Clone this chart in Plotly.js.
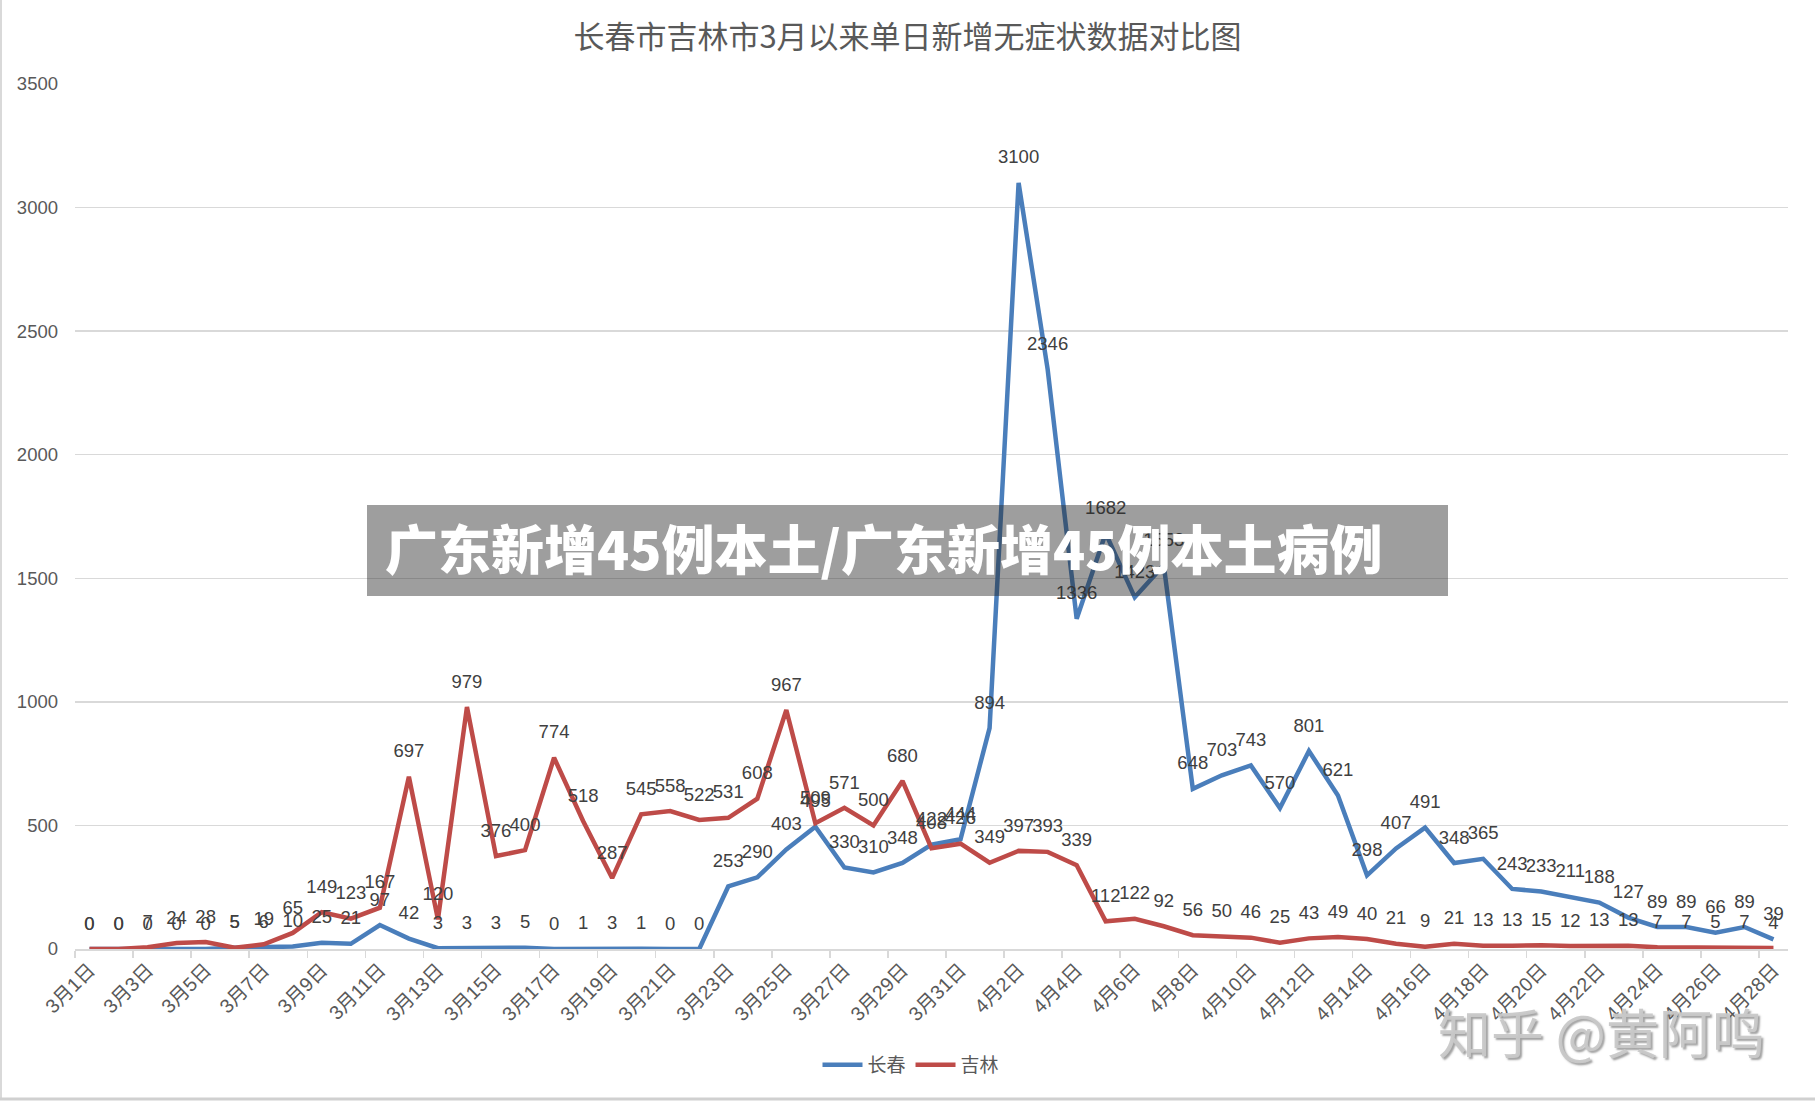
<!DOCTYPE html>
<html>
<head>
<meta charset="utf-8">
<script src="https://cdn.plot.ly/plotly-3.0.1.min.js"></script>
<style>
  html, body { margin: 0; padding: 0; background: #ffffff; }
  #chart { width: 1815px; height: 1102px; }
</style>
</head>
<body>
<div id="chart"></div>
<script>
const dates = [
  "3月1日","3月2日","3月3日","3月4日","3月5日","3月6日","3月7日","3月8日","3月9日","3月10日",
  "3月11日","3月12日","3月13日","3月14日","3月15日","3月16日","3月17日","3月18日","3月19日","3月20日",
  "3月21日","3月22日","3月23日","3月24日","3月25日","3月26日","3月27日","3月28日","3月29日","3月30日",
  "3月31日","4月1日","4月2日","4月3日","4月4日","4月5日","4月6日","4月7日","4月8日","4月9日",
  "4月10日","4月11日","4月12日","4月13日","4月14日","4月15日","4月16日","4月17日","4月18日","4月19日",
  "4月20日","4月21日","4月22日","4月23日","4月24日","4月25日","4月26日","4月27日","4月28日"
];

const changchun = [
  0, 0, 0, 0, 0, 5, 6, 10, 25, 21,
  97, 42, 3, 3, 3, 5, 0, 1, 3, 1,
  0, 0, 253, 290, 403, 495, 330, 310, 348, 422,
  444, 894, 3100, 2346, 1336, 1682, 1423, 1553, 648, 703,
  743, 570, 801, 621, 298, 407, 491, 348, 365, 243,
  233, 211, 188, 127, 89, 89, 66, 89, 39
];

const jilin = [
  0, 0, 7, 24, 28, 5, 19, 65, 149, 123,
  167, 697, 120, 979, 376, 400, 774, 518, 287, 545,
  558, 522, 531, 608, 967, 509, 571, 500, 680, 408,
  426, 349, 397, 393, 339, 112, 122, 92, 56, 50,
  46, 25, 43, 49, 40, 21, 9, 21, 13, 13,
  15, 12, 13, 13, 7, 7, 5, 7, 4
];

const seriesNames = ["长春", "吉林"];
const titleText = "长春市吉林市3月以来单日新增无症状数据对比图";
const bannerText = "广东新增45例本土/广东新增45例本土病例";
const watermarkText = "知乎 @黄阿鸣";

const blue = "#4A7EBB";
const red = "#BE4B48";
const labelFont = { family: "Liberation Sans, Noto Sans CJK SC, sans-serif", size: 18.5, color: "#404040" };

const traces = [
  { x: dates, y: changchun, name: seriesNames[0], type: "scatter", mode: "lines",
    line: { color: blue, width: 4.5 }, hoverinfo: "x+y" },
  { x: dates, y: jilin, name: seriesNames[1], type: "scatter", mode: "lines",
    line: { color: red, width: 4.5 }, hoverinfo: "x+y" },
  { x: dates, y: changchun, type: "scatter", mode: "markers+text", showlegend: false,
    text: changchun.map(String), textposition: "top center", textfont: labelFont,
    marker: { size: 22, color: "rgba(0,0,0,0)" }, hoverinfo: "skip" },
  { x: dates, y: jilin, type: "scatter", mode: "markers+text", showlegend: false,
    text: jilin.map(String), textposition: "top center", textfont: labelFont,
    marker: { size: 22, color: "rgba(0,0,0,0)" }, hoverinfo: "skip" }
];

// pixel -> paper helpers (plot area: x 75..1788, y 84..949)
const L = 75, R = 1788, T = 84, B = 949;
const px = v => (v - L) / (R - L);
const py = v => (B - v) / (B - T);

const layout = {
  width: 1815, height: 1102,
  paper_bgcolor: "#ffffff", plot_bgcolor: "#ffffff",
  margin: { l: L, r: 1815 - R, t: T, b: 1102 - B, pad: 0 },
  title: {
    text: titleText,
    x: 0.5, xref: "container", xanchor: "center",
    y: 1 - 37 / 1102, yref: "container", yanchor: "middle",
    font: { family: "Noto Sans CJK SC, sans-serif", size: 31, color: "#595959" }
  },
  showlegend: true,
  legend: {
    orientation: "h", x: px(911), xanchor: "center", y: py(1065), yanchor: "middle",
    font: { family: "Noto Sans CJK SC, sans-serif", size: 19, color: "#595959" },
    bgcolor: "rgba(0,0,0,0)", itemwidth: 40
  },
  xaxis: {
    type: "category",
    range: [-0.5, 58.5],
    tickmode: "linear", tick0: 0, dtick: 2,
    tickangle: -45,
    tickson: "boundaries",
    ticks: "outside", ticklen: 7, tickwidth: 1.5, tickcolor: "#d9d9d9",
    showline: true, linecolor: "#d9d9d9", linewidth: 2,
    showgrid: false, zeroline: false,
    tickfont: { family: "Liberation Sans, Noto Sans CJK SC, sans-serif", size: 19.5, color: "#595959" }
  },
  yaxis: {
    range: [0, 3500], dtick: 500, tick0: 0,
    showgrid: true, gridcolor: "#d9d9d9", gridwidth: 1.5,
    zeroline: false, showline: false, ticks: "",
    ticklabelstandoff: 16,
    tickfont: { family: "Liberation Sans, sans-serif", size: 18.5, color: "#595959" }
  },
  shapes: [
    { type: "rect", xref: "paper", yref: "paper", layer: "above",
      x0: px(367), x1: px(1448), y0: py(596), y1: py(505),
      fillcolor: "rgba(40,40,40,0.45)", line: { width: 0 } },
    { type: "line", xref: "paper", yref: "paper", layer: "below",
      x0: px(1), x1: px(1), y0: py(0), y1: py(1098),
      line: { color: "#d9d9d9", width: 2 } },
    { type: "line", xref: "paper", yref: "paper", layer: "below",
      x0: px(0), x1: px(1815), y0: py(1099), y1: py(1099),
      line: { color: "#d0d0d0", width: 3 } }
  ],
  annotations: [
    { text: bannerText, xref: "paper", yref: "paper",
      x: px(884), y: py(547), xanchor: "center", yanchor: "middle", showarrow: false,
      font: { family: "Noto Sans CJK SC, sans-serif", size: 53, color: "#ffffff", weight: 900 } },
    { text: watermarkText, xref: "paper", yref: "paper",
      x: px(1601), y: py(1031), xanchor: "center", yanchor: "middle", showarrow: false,
      font: { family: "Noto Sans CJK SC, sans-serif", size: 53, color: "rgba(200,200,200,0.95)",
              shadow: "2px 2px 2px rgba(90,90,90,0.6)" } }
  ],
  hovermode: false
};

Plotly.newPlot("chart", traces, layout, { displayModeBar: false, staticPlot: true });
</script>
</body>
</html>
